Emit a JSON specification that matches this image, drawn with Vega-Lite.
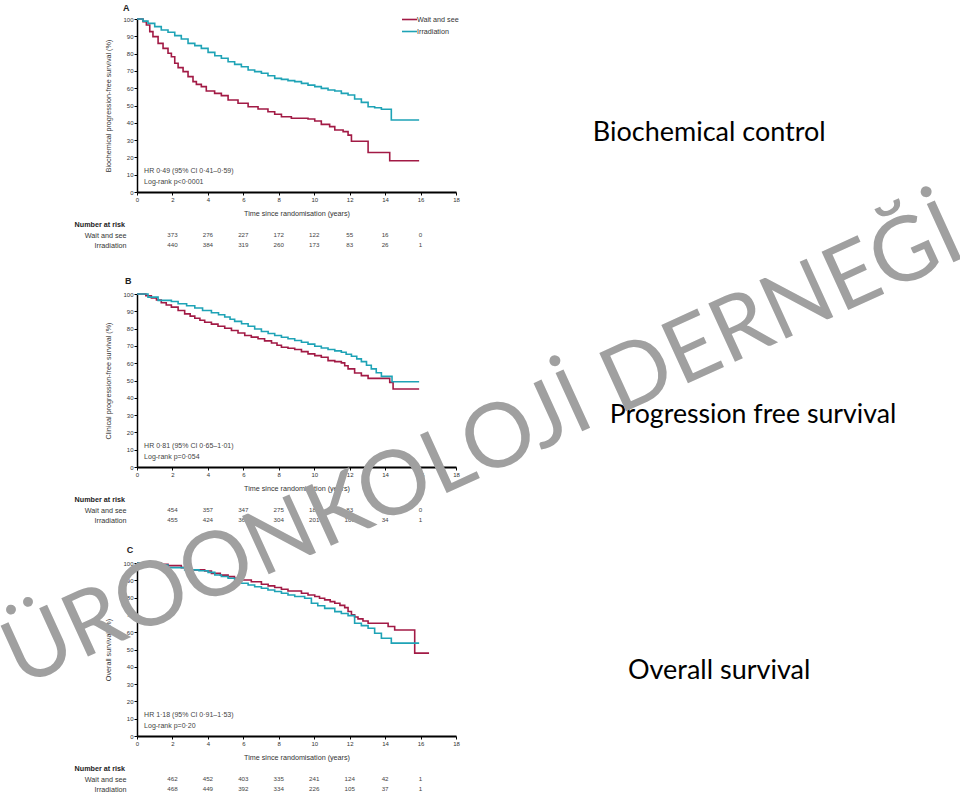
{
  "$schema": "https://vega.github.io/schema/vega-lite/v6.json",
  "autosize": {"type": "none"},
  "padding": {"left": 137, "top": 19, "right": 823, "bottom": 779},
  "background": "white",
  "config": {
    "font": "Liberation Sans",
    "view": {"stroke": null},
    "axis": {"grid": false, "labelFontSize": 6, "labelColor": "#333", "titleColor": "#333", "titleFontSize": 7.2, "titleFontWeight": "normal", "tickColor": "#000", "domainColor": "#000", "tickSize": 3, "labelPadding": 1, "labelOverlap": false, "labelFlush": false}
  },
  "datasets": {
    "km": [
      {"p":"A","g":"Wait and see","t":0,"s":100},{"p":"A","g":"Wait and see","t":0.34,"s":98.5},{"p":"A","g":"Wait and see","t":0.53,"s":96.5},{"p":"A","g":"Wait and see","t":0.72,"s":92.7},{"p":"A","g":"Wait and see","t":0.9,"s":89.8},{"p":"A","g":"Wait and see","t":1.19,"s":85.9},{"p":"A","g":"Wait and see","t":1.47,"s":83},{"p":"A","g":"Wait and see","t":1.75,"s":80.2},{"p":"A","g":"Wait and see","t":1.94,"s":78.2},{"p":"A","g":"Wait and see","t":2.13,"s":74.4},{"p":"A","g":"Wait and see","t":2.32,"s":71.9},{"p":"A","g":"Wait and see","t":2.6,"s":69.6},{"p":"A","g":"Wait and see","t":2.88,"s":66.7},{"p":"A","g":"Wait and see","t":3.16,"s":63.8},{"p":"A","g":"Wait and see","t":3.35,"s":62.2},{"p":"A","g":"Wait and see","t":3.63,"s":60.9},{"p":"A","g":"Wait and see","t":3.91,"s":58.4},{"p":"A","g":"Wait and see","t":4.38,"s":57},{"p":"A","g":"Wait and see","t":4.76,"s":55.7},{"p":"A","g":"Wait and see","t":5.14,"s":53.2},{"p":"A","g":"Wait and see","t":5.7,"s":51.3},{"p":"A","g":"Wait and see","t":6.27,"s":49.3},{"p":"A","g":"Wait and see","t":6.83,"s":48},{"p":"A","g":"Wait and see","t":7.39,"s":46.4},{"p":"A","g":"Wait and see","t":7.77,"s":44.9},{"p":"A","g":"Wait and see","t":8.15,"s":43.5},{"p":"A","g":"Wait and see","t":8.71,"s":42.6},{"p":"A","g":"Wait and see","t":9.65,"s":42.2},{"p":"A","g":"Wait and see","t":10.03,"s":41},{"p":"A","g":"Wait and see","t":10.4,"s":39.1},{"p":"A","g":"Wait and see","t":10.87,"s":37.8},{"p":"A","g":"Wait and see","t":11.16,"s":35.8},{"p":"A","g":"Wait and see","t":11.63,"s":34.9},{"p":"A","g":"Wait and see","t":11.91,"s":32.9},{"p":"A","g":"Wait and see","t":12.1,"s":29.3},{"p":"A","g":"Wait and see","t":13.04,"s":22.8},{"p":"A","g":"Wait and see","t":14.26,"s":18.1},{"p":"A","g":"Wait and see","t":15.92,"s":18.1},
      {"p":"A","g":"Irradiation","t":0,"s":100},{"p":"A","g":"Irradiation","t":0.34,"s":98.8},{"p":"A","g":"Irradiation","t":0.62,"s":97.5},{"p":"A","g":"Irradiation","t":1,"s":95.6},{"p":"A","g":"Irradiation","t":1.37,"s":93.6},{"p":"A","g":"Irradiation","t":1.75,"s":92.3},{"p":"A","g":"Irradiation","t":2.13,"s":90.4},{"p":"A","g":"Irradiation","t":2.5,"s":88.4},{"p":"A","g":"Irradiation","t":2.88,"s":85.9},{"p":"A","g":"Irradiation","t":3.26,"s":84.6},{"p":"A","g":"Irradiation","t":3.63,"s":83},{"p":"A","g":"Irradiation","t":4.01,"s":80.7},{"p":"A","g":"Irradiation","t":4.39,"s":78.8},{"p":"A","g":"Irradiation","t":4.76,"s":77.3},{"p":"A","g":"Irradiation","t":5.14,"s":75.3},{"p":"A","g":"Irradiation","t":5.51,"s":73.8},{"p":"A","g":"Irradiation","t":5.89,"s":72.4},{"p":"A","g":"Irradiation","t":6.27,"s":70.5},{"p":"A","g":"Irradiation","t":6.64,"s":69.6},{"p":"A","g":"Irradiation","t":7.02,"s":68.6},{"p":"A","g":"Irradiation","t":7.39,"s":67.2},{"p":"A","g":"Irradiation","t":7.77,"s":65.7},{"p":"A","g":"Irradiation","t":8.15,"s":65.1},{"p":"A","g":"Irradiation","t":8.52,"s":64.4},{"p":"A","g":"Irradiation","t":8.9,"s":63.8},{"p":"A","g":"Irradiation","t":9.28,"s":62.8},{"p":"A","g":"Irradiation","t":9.65,"s":61.8},{"p":"A","g":"Irradiation","t":10.03,"s":60.9},{"p":"A","g":"Irradiation","t":10.4,"s":59.9},{"p":"A","g":"Irradiation","t":10.78,"s":59},{"p":"A","g":"Irradiation","t":11.16,"s":58.4},{"p":"A","g":"Irradiation","t":11.53,"s":57},{"p":"A","g":"Irradiation","t":11.91,"s":56.1},{"p":"A","g":"Irradiation","t":12.28,"s":53.8},{"p":"A","g":"Irradiation","t":12.66,"s":51.8},{"p":"A","g":"Irradiation","t":13.04,"s":49.3},{"p":"A","g":"Irradiation","t":13.41,"s":48.7},{"p":"A","g":"Irradiation","t":13.79,"s":47.8},{"p":"A","g":"Irradiation","t":14.35,"s":41.6},{"p":"A","g":"Irradiation","t":15.92,"s":41.6},
      {"p":"B","g":"Wait and see","t":0,"s":100},{"p":"B","g":"Wait and see","t":0.5,"s":99},{"p":"B","g":"Wait and see","t":0.81,"s":97.7},{"p":"B","g":"Wait and see","t":1.1,"s":96.5},{"p":"B","g":"Wait and see","t":1.37,"s":94.9},{"p":"B","g":"Wait and see","t":1.65,"s":93.6},{"p":"B","g":"Wait and see","t":1.94,"s":92.4},{"p":"B","g":"Wait and see","t":2.32,"s":90.5},{"p":"B","g":"Wait and see","t":2.69,"s":88.5},{"p":"B","g":"Wait and see","t":3,"s":87.2},{"p":"B","g":"Wait and see","t":3.26,"s":86},{"p":"B","g":"Wait and see","t":3.55,"s":84.8},{"p":"B","g":"Wait and see","t":3.82,"s":83.7},{"p":"B","g":"Wait and see","t":4.2,"s":82.6},{"p":"B","g":"Wait and see","t":4.57,"s":81.4},{"p":"B","g":"Wait and see","t":4.95,"s":80.2},{"p":"B","g":"Wait and see","t":5.33,"s":78.9},{"p":"B","g":"Wait and see","t":5.7,"s":77.5},{"p":"B","g":"Wait and see","t":6.08,"s":76},{"p":"B","g":"Wait and see","t":6.45,"s":75.1},{"p":"B","g":"Wait and see","t":6.83,"s":74.1},{"p":"B","g":"Wait and see","t":7.2,"s":72.9},{"p":"B","g":"Wait and see","t":7.59,"s":71.7},{"p":"B","g":"Wait and see","t":7.9,"s":70.4},{"p":"B","g":"Wait and see","t":8.15,"s":69.2},{"p":"B","g":"Wait and see","t":8.52,"s":68.6},{"p":"B","g":"Wait and see","t":8.9,"s":67.9},{"p":"B","g":"Wait and see","t":9.28,"s":66.7},{"p":"B","g":"Wait and see","t":9.65,"s":65.4},{"p":"B","g":"Wait and see","t":10.03,"s":64.4},{"p":"B","g":"Wait and see","t":10.4,"s":63.4},{"p":"B","g":"Wait and see","t":10.78,"s":61.5},{"p":"B","g":"Wait and see","t":11.16,"s":60.9},{"p":"B","g":"Wait and see","t":11.53,"s":60.2},{"p":"B","g":"Wait and see","t":11.72,"s":58.5},{"p":"B","g":"Wait and see","t":11.91,"s":56.7},{"p":"B","g":"Wait and see","t":12.28,"s":54.3},{"p":"B","g":"Wait and see","t":12.66,"s":52.8},{"p":"B","g":"Wait and see","t":13.04,"s":51.2},{"p":"B","g":"Wait and see","t":14.26,"s":48.9},{"p":"B","g":"Wait and see","t":14.45,"s":45.1},{"p":"B","g":"Wait and see","t":15.92,"s":45.1},
      {"p":"B","g":"Irradiation","t":0,"s":100},{"p":"B","g":"Irradiation","t":0.62,"s":98.2},{"p":"B","g":"Irradiation","t":1.19,"s":96.3},{"p":"B","g":"Irradiation","t":1.94,"s":95.7},{"p":"B","g":"Irradiation","t":2.32,"s":94.4},{"p":"B","g":"Irradiation","t":2.8,"s":93.2},{"p":"B","g":"Irradiation","t":3.26,"s":91.9},{"p":"B","g":"Irradiation","t":3.7,"s":90.5},{"p":"B","g":"Irradiation","t":4.2,"s":89.2},{"p":"B","g":"Irradiation","t":4.6,"s":88},{"p":"B","g":"Irradiation","t":4.95,"s":86.7},{"p":"B","g":"Irradiation","t":5.25,"s":85.4},{"p":"B","g":"Irradiation","t":5.51,"s":84.2},{"p":"B","g":"Irradiation","t":5.9,"s":82.8},{"p":"B","g":"Irradiation","t":6.27,"s":81.4},{"p":"B","g":"Irradiation","t":6.64,"s":79.8},{"p":"B","g":"Irradiation","t":7.02,"s":78.3},{"p":"B","g":"Irradiation","t":7.4,"s":77.2},{"p":"B","g":"Irradiation","t":7.77,"s":76},{"p":"B","g":"Irradiation","t":8.15,"s":75},{"p":"B","g":"Irradiation","t":8.52,"s":74.1},{"p":"B","g":"Irradiation","t":8.9,"s":73.1},{"p":"B","g":"Irradiation","t":9.28,"s":72.1},{"p":"B","g":"Irradiation","t":9.65,"s":71},{"p":"B","g":"Irradiation","t":10.03,"s":69.8},{"p":"B","g":"Irradiation","t":10.4,"s":68.8},{"p":"B","g":"Irradiation","t":10.78,"s":67.9},{"p":"B","g":"Irradiation","t":11.16,"s":67.1},{"p":"B","g":"Irradiation","t":11.53,"s":66.3},{"p":"B","g":"Irradiation","t":11.8,"s":65.2},{"p":"B","g":"Irradiation","t":12.1,"s":64},{"p":"B","g":"Irradiation","t":12.4,"s":62.5},{"p":"B","g":"Irradiation","t":12.66,"s":60.9},{"p":"B","g":"Irradiation","t":12.95,"s":58.8},{"p":"B","g":"Irradiation","t":13.22,"s":56.7},{"p":"B","g":"Irradiation","t":13.5,"s":54.5},{"p":"B","g":"Irradiation","t":13.79,"s":52.4},{"p":"B","g":"Irradiation","t":14.39,"s":49.3},{"p":"B","g":"Irradiation","t":15.92,"s":49.3},
      {"p":"C","g":"Wait and see","t":0,"s":100},{"p":"C","g":"Wait and see","t":1.37,"s":99.2},{"p":"C","g":"Wait and see","t":1.75,"s":98.5},{"p":"C","g":"Wait and see","t":2.5,"s":97.3},{"p":"C","g":"Wait and see","t":3.07,"s":96},{"p":"C","g":"Wait and see","t":3.82,"s":95.4},{"p":"C","g":"Wait and see","t":4.2,"s":94},{"p":"C","g":"Wait and see","t":4.7,"s":93},{"p":"C","g":"Wait and see","t":5.14,"s":92.1},{"p":"C","g":"Wait and see","t":5.5,"s":91.2},{"p":"C","g":"Wait and see","t":5.89,"s":90.2},{"p":"C","g":"Wait and see","t":6.45,"s":89.2},{"p":"C","g":"Wait and see","t":7.02,"s":87.7},{"p":"C","g":"Wait and see","t":7.4,"s":86.8},{"p":"C","g":"Wait and see","t":7.77,"s":85.8},{"p":"C","g":"Wait and see","t":8.15,"s":84.8},{"p":"C","g":"Wait and see","t":8.52,"s":83.8},{"p":"C","g":"Wait and see","t":9.28,"s":82.5},{"p":"C","g":"Wait and see","t":9.65,"s":81.5},{"p":"C","g":"Wait and see","t":10.03,"s":80.6},{"p":"C","g":"Wait and see","t":10.3,"s":79.6},{"p":"C","g":"Wait and see","t":10.59,"s":78.7},{"p":"C","g":"Wait and see","t":10.9,"s":77.7},{"p":"C","g":"Wait and see","t":11.16,"s":76.7},{"p":"C","g":"Wait and see","t":11.45,"s":75.5},{"p":"C","g":"Wait and see","t":11.72,"s":74.2},{"p":"C","g":"Wait and see","t":11.91,"s":72},{"p":"C","g":"Wait and see","t":12.1,"s":70},{"p":"C","g":"Wait and see","t":12.28,"s":68.8},{"p":"C","g":"Wait and see","t":12.47,"s":67.7},{"p":"C","g":"Wait and see","t":12.75,"s":66.5},{"p":"C","g":"Wait and see","t":13.04,"s":65.2},{"p":"C","g":"Wait and see","t":14.17,"s":63.3},{"p":"C","g":"Wait and see","t":14.54,"s":61.3},{"p":"C","g":"Wait and see","t":15.67,"s":47.9},{"p":"C","g":"Wait and see","t":16.48,"s":47.9},
      {"p":"C","g":"Irradiation","t":0,"s":100},{"p":"C","g":"Irradiation","t":0.5,"s":99.4},{"p":"C","g":"Irradiation","t":1,"s":98.8},{"p":"C","g":"Irradiation","t":1.75,"s":97.3},{"p":"C","g":"Irradiation","t":2.69,"s":96},{"p":"C","g":"Irradiation","t":3.5,"s":95.5},{"p":"C","g":"Irradiation","t":4.01,"s":94.6},{"p":"C","g":"Irradiation","t":4.39,"s":93.1},{"p":"C","g":"Irradiation","t":4.76,"s":92.2},{"p":"C","g":"Irradiation","t":5.14,"s":91.2},{"p":"C","g":"Irradiation","t":5.51,"s":89.7},{"p":"C","g":"Irradiation","t":5.89,"s":88.3},{"p":"C","g":"Irradiation","t":6.27,"s":87.3},{"p":"C","g":"Irradiation","t":6.64,"s":86.3},{"p":"C","g":"Irradiation","t":7.02,"s":85.4},{"p":"C","g":"Irradiation","t":7.39,"s":84.4},{"p":"C","g":"Irradiation","t":7.77,"s":83.5},{"p":"C","g":"Irradiation","t":8.15,"s":82.5},{"p":"C","g":"Irradiation","t":8.52,"s":81.5},{"p":"C","g":"Irradiation","t":8.9,"s":80.6},{"p":"C","g":"Irradiation","t":9.46,"s":79.6},{"p":"C","g":"Irradiation","t":9.84,"s":76.7},{"p":"C","g":"Irradiation","t":10.2,"s":75.3},{"p":"C","g":"Irradiation","t":10.59,"s":73.8},{"p":"C","g":"Irradiation","t":11.16,"s":71.9},{"p":"C","g":"Irradiation","t":11.53,"s":70.8},{"p":"C","g":"Irradiation","t":11.91,"s":69.6},{"p":"C","g":"Irradiation","t":12.28,"s":65.2},{"p":"C","g":"Irradiation","t":12.66,"s":63.8},{"p":"C","g":"Irradiation","t":13.04,"s":62.3},{"p":"C","g":"Irradiation","t":13.41,"s":59.4},{"p":"C","g":"Irradiation","t":13.79,"s":56.5},{"p":"C","g":"Irradiation","t":14.35,"s":53.7},{"p":"C","g":"Irradiation","t":15.92,"s":53.7}
    ],
    "risk": [
      {"p":"A","g":"Wait and see","t":2,"n":373},{"p":"A","g":"Wait and see","t":4,"n":276},{"p":"A","g":"Wait and see","t":6,"n":227},{"p":"A","g":"Wait and see","t":8,"n":172},{"p":"A","g":"Wait and see","t":10,"n":122},{"p":"A","g":"Wait and see","t":12,"n":55},{"p":"A","g":"Wait and see","t":14,"n":16},{"p":"A","g":"Wait and see","t":16,"n":0},
      {"p":"A","g":"Irradiation","t":2,"n":440},{"p":"A","g":"Irradiation","t":4,"n":384},{"p":"A","g":"Irradiation","t":6,"n":319},{"p":"A","g":"Irradiation","t":8,"n":260},{"p":"A","g":"Irradiation","t":10,"n":173},{"p":"A","g":"Irradiation","t":12,"n":83},{"p":"A","g":"Irradiation","t":14,"n":26},{"p":"A","g":"Irradiation","t":16,"n":1},
      {"p":"B","g":"Wait and see","t":2,"n":454},{"p":"B","g":"Wait and see","t":4,"n":357},{"p":"B","g":"Wait and see","t":6,"n":347},{"p":"B","g":"Wait and see","t":8,"n":275},{"p":"B","g":"Wait and see","t":10,"n":186},{"p":"B","g":"Wait and see","t":12,"n":83},{"p":"B","g":"Wait and see","t":14,"n":30},{"p":"B","g":"Wait and see","t":16,"n":0},
      {"p":"B","g":"Irradiation","t":2,"n":455},{"p":"B","g":"Irradiation","t":4,"n":424},{"p":"B","g":"Irradiation","t":6,"n":361},{"p":"B","g":"Irradiation","t":8,"n":304},{"p":"B","g":"Irradiation","t":10,"n":201},{"p":"B","g":"Irradiation","t":12,"n":100},{"p":"B","g":"Irradiation","t":14,"n":34},{"p":"B","g":"Irradiation","t":16,"n":1},
      {"p":"C","g":"Wait and see","t":2,"n":462},{"p":"C","g":"Wait and see","t":4,"n":452},{"p":"C","g":"Wait and see","t":6,"n":403},{"p":"C","g":"Wait and see","t":8,"n":335},{"p":"C","g":"Wait and see","t":10,"n":241},{"p":"C","g":"Wait and see","t":12,"n":124},{"p":"C","g":"Wait and see","t":14,"n":42},{"p":"C","g":"Wait and see","t":16,"n":1},
      {"p":"C","g":"Irradiation","t":2,"n":468},{"p":"C","g":"Irradiation","t":4,"n":449},{"p":"C","g":"Irradiation","t":6,"n":392},{"p":"C","g":"Irradiation","t":8,"n":334},{"p":"C","g":"Irradiation","t":10,"n":226},{"p":"C","g":"Irradiation","t":12,"n":105},{"p":"C","g":"Irradiation","t":14,"n":37},{"p":"C","g":"Irradiation","t":16,"n":1}
    ]
  },
  "bounds": "flush",
  "spacing": 28,
  "resolve": {"scale": {"color": "independent"}, "legend": {"color": "independent"}},
  "vconcat": [
    {
      "width": 319, "height": 173,
      "layer": [
        {
          "data": {"name": "km"}, "transform": [{"filter": "datum.p === 'A'"}],
          "mark": {"type": "line", "interpolate": "step-after", "strokeWidth": 1.6},
          "encoding": {
            "x": {"field": "t", "type": "quantitative", "scale": {"domain": [0, 18], "nice": false}, "axis": {"values": [0,2,4,6,8,10,12,14,16,18], "tickCount": 10, "title": "Time since randomisation (years)", "domainWidth": 2, "titlePadding": 7}},
            "y": {"field": "s", "type": "quantitative", "scale": {"domain": [0, 100], "nice": false}, "axis": {"values": [0,10,20,30,40,50,60,70,80,90,100], "tickCount": 11, "title": "Biochemical progression-free survival (%)", "domainWidth": 1.5, "titlePadding": 10}},
            "color": {"field": "g", "type": "nominal", "scale": {"domain": ["Wait and see", "Irradiation"], "range": ["#a21a45", "#1ea3b6"]},
              "legend": {"orient": "none", "legendX": 264, "legendY": -8, "title": null, "symbolType": "stroke", "symbolSize": 225, "symbolStrokeWidth": 1.6, "labelFontSize": 7.2, "labelOffset": -1, "rowPadding": -4, "labelColor": "#333", "padding": 0}}
          }
        },
        {
          "data": {"values": [{}]},
          "mark": {"type": "text", "align": "center", "baseline": "middle", "fontSize": 9, "fontWeight": "bold", "color": "#222", "text": "A"},
          "encoding": {"x": {"datum": -0.6, "type": "quantitative", "scale": {"domain": [0, 18], "nice": false}}, "y": {"datum": 106.5, "type": "quantitative", "scale": {"domain": [0, 100], "nice": false}}}
        },
        {
          "data": {"values": [{}]},
          "mark": {"type": "text", "align": "left", "baseline": "top", "fontSize": 7, "color": "#444", "lineHeight": 11, "text": ["HR 0·49 (95% CI 0·41–0·59)", "Log-rank p<0·0001"]},
          "encoding": {"x": {"datum": 0.4, "type": "quantitative", "scale": {"domain": [0, 18], "nice": false}}, "y": {"datum": 14.2, "type": "quantitative", "scale": {"domain": [0, 100], "nice": false}}}
        },
        {
          "data": {"values": [{}]},
          "mark": {"type": "text", "align": "left", "baseline": "alphabetic", "fontSize": 27, "font": "Lato", "color": "#000", "text": "Biochemical control"},
          "encoding": {"x": {"datum": 25.72, "type": "quantitative", "scale": {"domain": [0, 18], "nice": false}}, "y": {"datum": 29.4, "type": "quantitative", "scale": {"domain": [0, 100], "nice": false}}}
        }
      ]
    },
    {
      "width": 319, "height": 45.3,
      "data": {"name": "risk"}, "transform": [{"filter": "datum.p === 'A'"}],
      "layer": [
        {
          "mark": {"type": "text", "fontSize": 6.2, "color": "#444"},
          "encoding": {
            "x": {"field": "t", "type": "quantitative", "scale": {"domain": [0, 18], "nice": false}, "axis": null},
            "y": {"field": "g", "type": "nominal", "scale": {"domain": ["Number at risk", "Wait and see", "Irradiation"], "range": [0, 30], "paddingInner": 0, "paddingOuter": 0}, "axis": {"title": null, "domain": false, "ticks": false, "labelPadding": 11, "labelFontSize": 7.2, "labelColor": "#333", "labelExpr": "datum.value === 'Number at risk' ? '' : datum.value"}},
            "text": {"field": "n", "type": "quantitative"}
          }
        },
        {
          "data": {"values": [{}]},
          "mark": {"type": "text", "align": "left", "fontSize": 7.2, "fontWeight": "bold", "color": "#222", "text": "Number at risk"},
          "encoding": {"x": {"datum": -3.52, "type": "quantitative", "scale": {"domain": [0, 18], "nice": false}}, "y": {"datum": "Number at risk", "type": "nominal", "scale": {"domain": ["Number at risk", "Wait and see", "Irradiation"], "range": [0, 30], "paddingInner": 0, "paddingOuter": 0}}}
        }
      ]
    },
    {
      "width": 319, "height": 173,
      "layer": [
        {
          "data": {"name": "km"}, "transform": [{"filter": "datum.p === 'B'"}],
          "mark": {"type": "line", "interpolate": "step-after", "strokeWidth": 1.6},
          "encoding": {
            "x": {"field": "t", "type": "quantitative", "scale": {"domain": [0, 18], "nice": false}, "axis": {"values": [0,2,4,6,8,10,12,14,16,18], "tickCount": 10, "title": "Time since randomisation (years)", "domainWidth": 2, "titlePadding": 7}},
            "y": {"field": "s", "type": "quantitative", "scale": {"domain": [0, 100], "nice": false}, "axis": {"values": [0,10,20,30,40,50,60,70,80,90,100], "tickCount": 11, "title": "Clinical progression-free survival (%)", "domainWidth": 1.5, "titlePadding": 10}},
            "color": {"field": "g", "type": "nominal", "scale": {"domain": ["Wait and see", "Irradiation"], "range": ["#a21a45", "#1ea3b6"]}, "legend": null}
          }
        },
        {
          "data": {"values": [{}]},
          "mark": {"type": "text", "align": "center", "baseline": "middle", "fontSize": 9, "fontWeight": "bold", "color": "#222", "text": "B"},
          "encoding": {"x": {"datum": -0.5, "type": "quantitative", "scale": {"domain": [0, 18], "nice": false}}, "y": {"datum": 107.4, "type": "quantitative", "scale": {"domain": [0, 100], "nice": false}}}
        },
        {
          "data": {"values": [{}]},
          "mark": {"type": "text", "align": "left", "baseline": "top", "fontSize": 7, "color": "#444", "lineHeight": 11, "text": ["HR 0·81 (95% CI 0·65–1·01)", "Log-rank p=0·054"]},
          "encoding": {"x": {"datum": 0.4, "type": "quantitative", "scale": {"domain": [0, 18], "nice": false}}, "y": {"datum": 14.2, "type": "quantitative", "scale": {"domain": [0, 100], "nice": false}}}
        },
        {
          "data": {"values": [{}]},
          "mark": {"type": "text", "align": "left", "baseline": "alphabetic", "fontSize": 26.7, "font": "Lato", "color": "#000", "text": "Progression free survival"},
          "encoding": {"x": {"datum": 26.68, "type": "quantitative", "scale": {"domain": [0, 18], "nice": false}}, "y": {"datum": 25.3, "type": "quantitative", "scale": {"domain": [0, 100], "nice": false}}}
        }
      ]
    },
    {
      "width": 319, "height": 39.4,
      "data": {"name": "risk"}, "transform": [{"filter": "datum.p === 'B'"}],
      "layer": [
        {
          "mark": {"type": "text", "fontSize": 6.2, "color": "#444"},
          "encoding": {
            "x": {"field": "t", "type": "quantitative", "scale": {"domain": [0, 18], "nice": false}, "axis": null},
            "y": {"field": "g", "type": "nominal", "scale": {"domain": ["Number at risk", "Wait and see", "Irradiation"], "range": [0, 30], "paddingInner": 0, "paddingOuter": 0}, "axis": {"title": null, "domain": false, "ticks": false, "labelPadding": 11, "labelFontSize": 7.2, "labelColor": "#333", "labelExpr": "datum.value === 'Number at risk' ? '' : datum.value"}},
            "text": {"field": "n", "type": "quantitative"}
          }
        },
        {
          "data": {"values": [{}]},
          "mark": {"type": "text", "align": "left", "fontSize": 7.2, "fontWeight": "bold", "color": "#222", "text": "Number at risk"},
          "encoding": {"x": {"datum": -3.52, "type": "quantitative", "scale": {"domain": [0, 18], "nice": false}}, "y": {"datum": "Number at risk", "type": "nominal", "scale": {"domain": ["Number at risk", "Wait and see", "Irradiation"], "range": [0, 30], "paddingInner": 0, "paddingOuter": 0}}}
        }
      ]
    },
    {
      "width": 319, "height": 173,
      "layer": [
        {
          "data": {"name": "km"}, "transform": [{"filter": "datum.p === 'C'"}],
          "mark": {"type": "line", "interpolate": "step-after", "strokeWidth": 1.6},
          "encoding": {
            "x": {"field": "t", "type": "quantitative", "scale": {"domain": [0, 18], "nice": false}, "axis": {"values": [0,2,4,6,8,10,12,14,16,18], "tickCount": 10, "title": "Time since randomisation (years)", "domainWidth": 2, "titlePadding": 7}},
            "y": {"field": "s", "type": "quantitative", "scale": {"domain": [0, 100], "nice": false}, "axis": {"values": [0,10,20,30,40,50,60,70,80,90,100], "tickCount": 11, "title": "Overall survival (%)", "domainWidth": 1.5, "titlePadding": 10}},
            "color": {"field": "g", "type": "nominal", "scale": {"domain": ["Wait and see", "Irradiation"], "range": ["#a21a45", "#1ea3b6"]}, "legend": null}
          }
        },
        {
          "data": {"values": [{}]},
          "mark": {"type": "text", "align": "center", "baseline": "middle", "fontSize": 9, "fontWeight": "bold", "color": "#222", "text": "C"},
          "encoding": {"x": {"datum": -0.4, "type": "quantitative", "scale": {"domain": [0, 18], "nice": false}}, "y": {"datum": 107.8, "type": "quantitative", "scale": {"domain": [0, 100], "nice": false}}}
        },
        {
          "data": {"values": [{}]},
          "mark": {"type": "text", "align": "left", "baseline": "top", "fontSize": 7, "color": "#444", "lineHeight": 11, "text": ["HR 1·18 (95% CI 0·91–1·53)", "Log-rank p=0·20"]},
          "encoding": {"x": {"datum": 0.4, "type": "quantitative", "scale": {"domain": [0, 18], "nice": false}}, "y": {"datum": 14.2, "type": "quantitative", "scale": {"domain": [0, 100], "nice": false}}}
        },
        {
          "data": {"values": [{}]},
          "mark": {"type": "text", "align": "left", "baseline": "alphabetic", "fontSize": 27, "font": "Lato", "color": "#000", "text": "Overall survival"},
          "encoding": {"x": {"datum": 27.7, "type": "quantitative", "scale": {"domain": [0, 18], "nice": false}}, "y": {"datum": 32.9, "type": "quantitative", "scale": {"domain": [0, 100], "nice": false}}}
        },
        {
          "data": {"values": [{}]},
          "mark": {"type": "text", "align": "center", "baseline": "middle", "fontSize": 89.5, "font": "Lato", "angle": -24.5, "color": "#a0a0a0", "text": "ÜROONKOLOJİ DERNEĞİ"},
          "encoding": {"x": {"datum": 19.55, "type": "quantitative", "scale": {"domain": [0, 18], "nice": false}}, "y": {"datum": 167.2, "type": "quantitative", "scale": {"domain": [0, 100], "nice": false}}}
        }
      ]
    },
    {
      "width": 319, "height": 30,
      "data": {"name": "risk"}, "transform": [{"filter": "datum.p === 'C'"}],
      "layer": [
        {
          "mark": {"type": "text", "fontSize": 6.2, "color": "#444"},
          "encoding": {
            "x": {"field": "t", "type": "quantitative", "scale": {"domain": [0, 18], "nice": false}, "axis": null},
            "y": {"field": "g", "type": "nominal", "scale": {"domain": ["Number at risk", "Wait and see", "Irradiation"], "range": [0, 30], "paddingInner": 0, "paddingOuter": 0}, "axis": {"title": null, "domain": false, "ticks": false, "labelPadding": 11, "labelFontSize": 7.2, "labelColor": "#333", "labelExpr": "datum.value === 'Number at risk' ? '' : datum.value"}},
            "text": {"field": "n", "type": "quantitative"}
          }
        },
        {
          "data": {"values": [{}]},
          "mark": {"type": "text", "align": "left", "fontSize": 7.2, "fontWeight": "bold", "color": "#222", "text": "Number at risk"},
          "encoding": {"x": {"datum": -3.52, "type": "quantitative", "scale": {"domain": [0, 18], "nice": false}}, "y": {"datum": "Number at risk", "type": "nominal", "scale": {"domain": ["Number at risk", "Wait and see", "Irradiation"], "range": [0, 30], "paddingInner": 0, "paddingOuter": 0}}}
        }
      ]
    }
  ]
}
